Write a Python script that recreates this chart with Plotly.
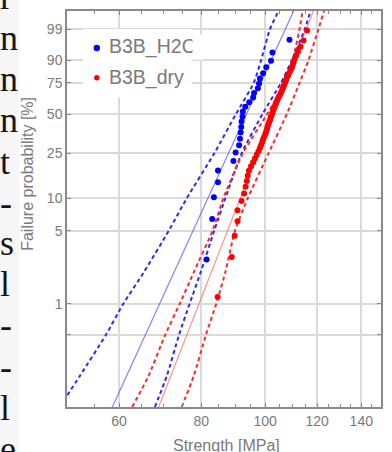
import numpy as np
import plotly.graph_objects as go

# ---------------- data ----------------
series_names = ["B3B_H2O", "B3B_dry"]

# sorted strengths [MPa]
h2o_strength = [81.5, 83.1, 83.6, 84.8, 84.8, 89.5, 90.2, 91.3, 91.6, 91.8,
                92.0, 92.1, 92.4, 92.5, 93.3, 94.6, 95.9, 96.2, 97.5, 97.9,
                98.2, 99.3, 100.4, 102.1, 102.6, 108.9]

dry_strength = [84.7, 89.0, 89.9, 90.8, 90.8, 92.1, 92.9, 93.4, 93.8, 94.1,
                94.5, 95.2, 95.9, 96.5, 97.1, 97.7, 98.2, 98.6, 99.0, 99.3,
                99.7, 100.1, 100.4, 100.7, 100.9, 101.2, 101.5, 101.8, 102.0, 102.3,
                102.6, 102.8, 103.1, 103.4, 103.7, 104.0, 104.3, 104.6, 105.0, 105.4,
                105.7, 106.1, 106.4, 106.7, 107.0, 107.3, 107.6, 107.9, 108.4, 108.8,
                109.3, 109.8, 110.1, 110.5, 110.9, 111.5, 112.2, 113.2, 114.4, 115.8]

# fitted Weibull lines: strength at 0.1 % and 99.9 %
fit_prob = [0.1, 99.9]
h2o_fit = [58.6, 110.5]
dry_fit = [68.9, 118.4]

# confidence bounds: strength at these failure probabilities [%]
bound_prob = [0.1, 0.2, 0.5, 1, 2, 5, 10, 25, 50, 75, 90, 99, 99.9]
h2o_lower = [48.7, 52.3, 57.3, 60.9, 65.4, 71.4, 76.0, 83.7, 90.3, 96.1, 98.6, 101.7, 104.8]
h2o_upper = [68.0, 70.9, 74.0, 76.8, 79.8, 83.7, 87.0, 92.1, 99.1, 105.7, 109.8, 114.9, 117.2]
dry_lower = [62.8, 66.5, 70.5, 74.2, 77.9, 83.2, 86.4, 92.5, 100.7, 107.1, 110.1, 112.8, 114.0]
dry_upper = [74.7, 77.9, 81.3, 84.3, 87.0, 90.0, 94.1, 101.2, 107.9, 112.8, 116.4, 120.5, 122.9]

x_ticks = [60, 80, 100, 120, 140]
x_minor = [55, 65, 70, 75, 85, 90, 95, 105, 110, 115, 125, 130, 135, 145]
y_tick_prob = [0.5, 1, 5, 10, 25, 50, 75, 90, 99]
y_tick_text = ["", "1", "5", "10", "25", "50", "75", "90", "99"]
y_range_prob = [0.1, 99.9]

side_text = ["r", "n", "n", "n", "t", "-", "s", "l", "-", "-", "l", "e"]
side_y = [7, 48, 89, 130, 172, 213, 254, 295, 336, 378, 419, 460]  # baselines, px


# ---------------- helpers ----------------
def weib(p_percent):
    p = np.asarray(p_percent, dtype=float) / 100.0
    return np.log(-np.log(1.0 - p))


def plot_pos(n):
    i = np.arange(1, n + 1)
    return (i - 0.3) / (n + 0.4) * 100.0


W, H = 392, 452
L, R, T, B = 67, 9, 10, 45
PW, PH = W - L - R, H - T - B


def px(x):
    return (x - L) / PW


def py(y):
    return (H - B - y) / PH


BLUE, RED = "#0000ff", "#ff0000"
GRAY = "#7a7a7a"

fig = go.Figure()

# fit lines
fig.add_trace(go.Scatter(x=h2o_fit, y=weib(fit_prob), mode="lines",
                         line=dict(color="rgba(90,90,255,0.75)", width=1.2),
                         showlegend=False, hoverinfo="skip"))
fig.add_trace(go.Scatter(x=dry_fit, y=weib(fit_prob), mode="lines",
                         line=dict(color="rgba(255,110,110,0.75)", width=1.2),
                         showlegend=False, hoverinfo="skip"))

for xs, col in [(h2o_lower, "#2a2aff"), (h2o_upper, "#2a2aff"),
                (dry_lower, "#ff2a2a"), (dry_upper, "#ff2a2a")]:
    fig.add_trace(go.Scatter(x=xs, y=weib(bound_prob), mode="lines",
                             line=dict(color=col, width=2, dash="4px,3px",
                                       shape="spline", smoothing=0.6),
                             showlegend=False, hoverinfo="skip"))

fig.add_trace(go.Scatter(x=h2o_strength, y=weib(plot_pos(len(h2o_strength))),
                         mode="markers", marker=dict(color=BLUE, size=6),
                         name=series_names[0], showlegend=False))
fig.add_trace(go.Scatter(x=dry_strength, y=weib(plot_pos(len(dry_strength))),
                         mode="markers", marker=dict(color=RED, size=6),
                         name=series_names[1], showlegend=False))

axis_common = dict(showline=True, linecolor="#8a8a8a", linewidth=1.5, mirror="ticks",
                   ticks="inside", ticklen=4, tickcolor="#8a8a8a",
                   showgrid=True, gridcolor="#dadada", gridwidth=1.5,
                   zeroline=False, tickfont=dict(family="Liberation Sans", size=14, color=GRAY))

fig.update_xaxes(type="log", range=[np.log10(50), np.log10(150)],
                 tickvals=x_ticks, ticktext=[str(v) for v in x_ticks],
                 minor=dict(tickvals=x_minor, ticks="inside", ticklen=3,
                            tickcolor="#8a8a8a", showgrid=False),
                 **axis_common)
fig.update_yaxes(range=list(weib(y_range_prob)), tickvals=list(weib(y_tick_prob)),
                 ticktext=y_tick_text, **axis_common)

shapes = [
    dict(type="rect", xref="paper", yref="paper", x0=px(-5), x1=px(19), y0=py(-5), y1=py(460),
         fillcolor="#f6f6f6", line=dict(width=0), layer="below"),
    dict(type="rect", xref="paper", yref="paper", x0=px(83), x1=px(193), y0=py(97), y1=py(28),
         fillcolor="white", line=dict(width=0), layer="above"),
]
# legend markers
for cy, col, d in [(47, BLUE, 6.5), (77, RED, 5.5)]:
    shapes.append(dict(type="circle", xref="paper", yref="paper",
                       x0=px(97 - d / 2), x1=px(97 + d / 2), y0=py(cy + d / 2), y1=py(cy - d / 2),
                       fillcolor=col, line=dict(width=0), layer="above"))

annotations = []
for name, cy in [(series_names[0], 46), (series_names[1], 77)]:
    annotations.append(dict(xref="paper", yref="paper", x=px(107), y=py(cy), xanchor="left",
                            yanchor="middle", text=name, showarrow=False,
                            font=dict(family="Liberation Sans", size=19.5, color=GRAY)))
# clip of legend text
annotations.append(dict(xref="paper", yref="paper", x=px(193), y=py(46), xanchor="left",
                        yanchor="middle", text="&nbsp;&nbsp;", showarrow=False, bgcolor="white",
                        font=dict(size=16), borderpad=1))
# axis titles
annotations.append(dict(xref="paper", yref="paper", x=px(228), y=py(446), xanchor="center",
                        yanchor="middle", text="Strength [MPa]", showarrow=False,
                        font=dict(family="Liberation Sans", size=16, color=GRAY)))
annotations.append(dict(xref="paper", yref="paper", x=px(27), y=py(173), xanchor="center",
                        yanchor="middle", text="Failure probability [%]", showarrow=False,
                        textangle=-90, font=dict(family="Liberation Sans", size=16, color=GRAY)))
# neighbouring page text
for ch, by in zip(side_text, side_y):
    annotations.append(dict(xref="paper", yref="paper", x=px(-2), y=py(by - 11), xanchor="left",
                            yanchor="middle", text=ch, showarrow=False,
                            font=dict(family="Liberation Serif", size=36, color="#151515")))

fig.update_layout(width=W, height=H, margin=dict(l=L, r=R, t=T, b=B),
                  paper_bgcolor="white", plot_bgcolor="white",
                  shapes=shapes, annotations=annotations, showlegend=False)

fig.write_html("out.html", config={"displayModeBar": False},
               post_script="document.body.style.margin='0px';document.body.style.padding='0px';")
